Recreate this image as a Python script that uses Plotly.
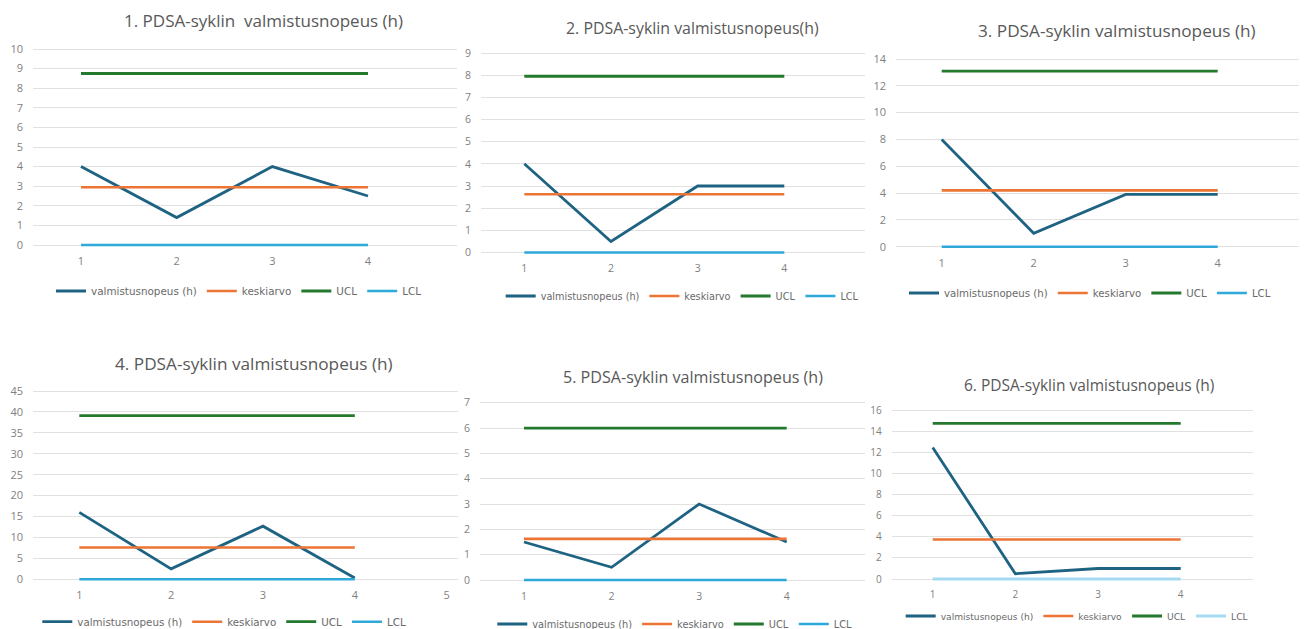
import plotly.graph_objects as go

W, H = 1307, 629
OFF = 8  # page body margin offset (screen px) compensated in geometry

# ---------------- data ----------------
cycles = [1, 2, 3, 4]
x_ticks_std = [1, 2, 3, 4]
x_ticks_4 = [1, 2, 3, 4, 5]

titles = [
    "1. PDSA-syklin  valmistusnopeus (h)",
    "2. PDSA-syklin valmistusnopeus(h)",
    "3. PDSA-syklin valmistusnopeus (h)",
    "4. PDSA-syklin valmistusnopeus (h)",
    "5. PDSA-syklin valmistusnopeus (h)",
    "6. PDSA-syklin valmistusnopeus (h)",
]
series_names = ["valmistusnopeus (h)", "keskiarvo", "UCL", "LCL"]

valm1 = [4, 1.4, 4, 2.5]
kesk1 = [2.95, 2.95, 2.95, 2.95]
ucl1 = [8.75, 8.75, 8.75, 8.75]
lcl1 = [0, 0, 0, 0]

valm2 = [4, 0.5, 3, 3]
kesk2 = [2.63, 2.63, 2.63, 2.63]
ucl2 = [7.95, 7.95, 7.95, 7.95]
lcl2 = [0, 0, 0, 0]

valm3 = [8, 1, 3.9, 3.9]
kesk3 = [4.2, 4.2, 4.2, 4.2]
ucl3 = [13.1, 13.1, 13.1, 13.1]
lcl3 = [0, 0, 0, 0]

valm4 = [16, 2.5, 12.7, 0.3]
kesk4 = [7.6, 7.6, 7.6, 7.6]
ucl4 = [39.1, 39.1, 39.1, 39.1]
lcl4 = [0, 0, 0, 0]

valm5 = [1.5, 0.5, 3, 1.5]
kesk5 = [1.625, 1.625, 1.625, 1.625]
ucl5 = [6, 6, 6, 6]
lcl5 = [0, 0, 0, 0]

valm6 = [12.5, 0.5, 1, 1]
kesk6 = [3.75, 3.75, 3.75, 3.75]
ucl6 = [14.8, 14.8, 14.8, 14.8]
lcl6 = [0, 0, 0, 0]

y_max = [10, 9, 14, 45, 7, 16]
y_step = [1, 1, 2, 5, 1, 2]

# ---------------- styles / geometry (screen pixels) ----------------
C_BLUE = "#1F6383"
C_ORANGE = "#EC7535"
C_GREEN = "#23792D"
C_LIGHT = "#2FA8DA"
C_LIGHT6 = "#A6DAF1"
GRID = "#E1E1E1"
TXT = "#7F7F7F"
LTXT = "#6A6A6A"
TITLE = "#595959"
FONT = "Open Sans"
LFONT = "DejaVu Sans"

# left, right, px(x=1), px(x=4), px(y=0), px(y=max), title cx, title cy,
# title size, tick size, legend x, legend y, legend font size
geom = [
    (33, 457, 81, 368, 245, 49, 263, 20, 17.0, 11, 51, 291, 10.4),
    (481, 865, 524.3, 784.3, 252.5, 53, 692, 28, 15.9, 10.5, 500.7, 296, 9.7),
    (896, 1315, 941.7, 1217.7, 246.7, 59, 1117, 31, 17.2, 11, 904, 293, 10.2),
    (33, 457.5, 79.3, 354.8, 579.3, 391, 254, 363, 17.2, 11, 37.3, 621.7, 10.3),
    (480, 865, 524, 786.7, 580, 402.7, 692.5, 377, 16.1, 10.5, 492.3, 624, 9.8),
    (891.7, 1253.3, 932.7, 1180.7, 579, 410.7, 1089, 385, 15.5, 10, 900.7, 616, 9.1),
]

data = [
    (valm1, kesk1, ucl1, lcl1, x_ticks_std, C_LIGHT),
    (valm2, kesk2, ucl2, lcl2, x_ticks_std, C_LIGHT),
    (valm3, kesk3, ucl3, lcl3, x_ticks_std, C_LIGHT),
    (valm4, kesk4, ucl4, lcl4, x_ticks_4, C_LIGHT),
    (valm5, kesk5, ucl5, lcl5, x_ticks_std, C_LIGHT),
    (valm6, kesk6, ucl6, lcl6, x_ticks_std, C_LIGHT6),
]

fig = go.Figure()
layout = dict(
    width=W, height=H,
    margin=dict(l=0, r=0, t=0, b=0, autoexpand=False),
    paper_bgcolor="white", plot_bgcolor="white",
    showlegend=True,
    annotations=[],
    font=dict(family=FONT, color=TXT),
)

PAD = 4
for i, (g, d) in enumerate(zip(geom, data)):
    left, right, x1, x4, y0, ytop, tcx, tcy, tsize, ksize, lx, ly, lsize = g
    left, right, x1, x4, tcx, lx = [v - OFF for v in (left, right, x1, x4, tcx, lx)]
    y0, ytop, tcy, ly = [v - OFF for v in (y0, ytop, tcy, ly)]
    right = min(right, W)
    valm, kesk, ucl, lcl, xt, lcl_col = d
    n = i + 1
    xs = (x4 - x1) / 3.0
    xr = [1 - (x1 - left) / xs, 4 + (right - x4) / xs]
    ys = (y0 - ytop) / y_max[i]
    yr = [-PAD / ys, y_max[i] + PAD / ys]
    xa = "xaxis" if n == 1 else f"xaxis{n}"
    ya = "yaxis" if n == 1 else f"yaxis{n}"
    xref = "x" if n == 1 else f"x{n}"
    yref = "y" if n == 1 else f"y{n}"
    lg = "legend" if n == 1 else f"legend{n}"
    layout[xa] = dict(
        domain=[left / W, right / W], range=xr, anchor=yref,
        tickmode="array", tickvals=xt, ticktext=[str(v) for v in xt],
        showgrid=False, zeroline=False, showline=False,
        tickfont=dict(size=ksize, color=TXT, family=FONT),
        ticklabelstandoff=4, fixedrange=True,
    )
    layout[ya] = dict(
        domain=[1 - (y0 + PAD) / H, 1 - (ytop - PAD) / H], range=yr, anchor=xref,
        tick0=0, dtick=y_step[i], showgrid=True, gridcolor=GRID, gridwidth=1,
        zeroline=False, showline=False,
        tickfont=dict(size=ksize, color=TXT, family=FONT),
        ticklabelstandoff=9, fixedrange=True,
    )
    layout[lg] = dict(
        x=lx / W, y=1 - ly / H, xanchor="left", yanchor="middle",
        orientation="h", bgcolor="rgba(0,0,0,0)",
        font=dict(size=lsize, color=LTXT, family=LFONT),
        itemclick=False, itemdoubleclick=False,
    )
    layout["annotations"].append(dict(
        text=titles[i], x=tcx / W, y=1 - tcy / H, xref="paper", yref="paper",
        xanchor="center", yanchor="middle", showarrow=False,
        font=dict(size=tsize, color=TITLE, family=FONT),
    ))
    for name, vals, col, wdt in [
        (series_names[0], valm, C_BLUE, 2.8),
        (series_names[1], kesk, C_ORANGE, 2.6),
        (series_names[2], ucl, C_GREEN, 2.8),
        (series_names[3], lcl, lcl_col, 2.6 if n != 6 else 3.2),
    ]:
        fig.add_trace(go.Scatter(
            x=cycles, y=vals, mode="lines", name=name,
            line=dict(color=col, width=wdt),
            xaxis=xref, yaxis=yref, legend=lg, hoverinfo="skip",
        ))

fig.update_layout(**layout)
fig.write_html("out.html", config={"displayModeBar": False})
